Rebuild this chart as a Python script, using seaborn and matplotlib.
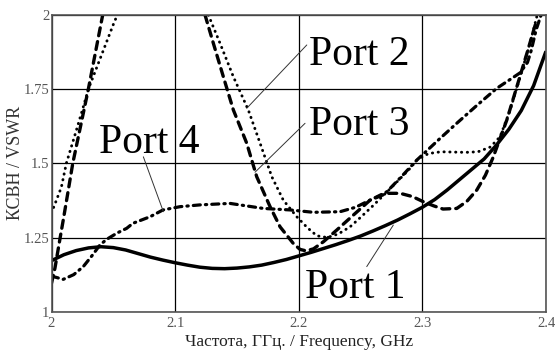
import matplotlib
matplotlib.use("Agg")
import matplotlib.pyplot as plt
import numpy as np
import pandas as pd
import seaborn as sns

# --- measured VSWR curves (frequency in GHz) ---
port1_freq = [2.000, 2.010, 2.020, 2.030, 2.040, 2.050, 2.060, 2.070, 2.080, 2.090,
              2.100, 2.110, 2.120, 2.130, 2.140, 2.150, 2.160, 2.170, 2.180, 2.190,
              2.200, 2.210, 2.220, 2.230, 2.240, 2.250, 2.260, 2.270, 2.280, 2.290,
              2.300, 2.310, 2.320, 2.330, 2.340, 2.350, 2.360, 2.370, 2.380, 2.390, 2.400]
port1_vswr = [1.172, 1.192, 1.206, 1.215, 1.219, 1.216, 1.208, 1.196, 1.184, 1.174,
              1.165, 1.157, 1.150, 1.146, 1.145, 1.147, 1.151, 1.157, 1.166, 1.176,
              1.188, 1.200, 1.213, 1.226, 1.240, 1.255, 1.272, 1.290, 1.309, 1.330,
              1.352, 1.378, 1.410, 1.445, 1.480, 1.515, 1.562, 1.615, 1.678, 1.762, 1.878]

# Port 2 leaves the top of the chart and comes back: two branches
port2_freq_a = [2.000, 2.004, 2.008, 2.012, 2.016, 2.020, 2.025, 2.030, 2.035, 2.040,
                2.045, 2.050, 2.0532]
port2_vswr_a = [1.333, 1.376, 1.420, 1.500, 1.555, 1.610, 1.680, 1.752, 1.806, 1.860,
                1.914, 1.968, 2.000]
port2_freq_b = [2.1269, 2.1363, 2.1471, 2.1592, 2.1687, 2.1782, 2.1875, 2.1984, 2.2070,
                2.2146, 2.2230, 2.2320, 2.2415, 2.2500, 2.2600, 2.2700, 2.2800, 2.2900,
                2.2960, 2.3050, 2.3150, 2.3250, 2.3350, 2.3450, 2.3550, 2.3629, 2.3710,
                2.3790, 2.3871, 2.3926]
port2_vswr_b = [2.000, 1.905, 1.792, 1.680, 1.568, 1.455, 1.376, 1.320, 1.283,
                1.256, 1.250, 1.262, 1.286, 1.318, 1.357, 1.398, 1.440, 1.483,
                1.513, 1.533, 1.539, 1.538, 1.537, 1.539, 1.555, 1.590, 1.680,
                1.790, 1.905, 1.995]

# Port 3 also has two branches
port3_freq_a = [2.000, 2.0028, 2.0069, 2.0095, 2.0136, 2.0172, 2.0235, 2.0298, 2.0356, 2.0414]
port3_vswr_a = [1.096, 1.147, 1.247, 1.309, 1.410, 1.500, 1.625, 1.750, 1.875, 2.000]
port3_freq_b = [2.1242, 2.1309, 2.1390, 2.1471, 2.1579, 2.1660, 2.1768, 2.1849, 2.1956,
                2.2010, 2.2060, 2.2120, 2.2200, 2.2307, 2.2440, 2.2577, 2.2712, 2.2820,
                2.2920, 2.3006, 2.3090, 2.3167, 2.3278, 2.3360, 2.3440, 2.3510, 2.3572,
                2.3683, 2.3764, 2.3845, 2.3926]
port3_vswr_b = [2.000, 1.905, 1.792, 1.680, 1.568, 1.455, 1.354, 1.286, 1.230,
                1.210, 1.205, 1.212, 1.236, 1.275, 1.325, 1.376, 1.399, 1.399,
                1.388, 1.371, 1.357, 1.346, 1.348, 1.372, 1.410, 1.460, 1.520,
                1.646, 1.758, 1.870, 1.985]

port4_freq = [2.000, 2.0095, 2.0180, 2.0257, 2.0330, 2.0392, 2.0447, 2.0530, 2.0608,
              2.0659, 2.0797, 2.0902, 2.1040, 2.1201, 2.1444, 2.1714, 2.1930, 2.2118,
              2.2334, 2.2460, 2.2577, 2.2712, 2.2830, 2.2955, 2.3143, 2.3278, 2.3440,
              2.3602, 2.3700, 2.3790, 2.3850, 2.3880, 2.3920, 2.3960]
port4_vswr = [1.120, 1.109, 1.125, 1.152, 1.190, 1.225, 1.244, 1.265, 1.281,
              1.298, 1.320, 1.343, 1.354, 1.360, 1.365, 1.348, 1.343, 1.335,
              1.337, 1.352, 1.376, 1.404, 1.455, 1.511, 1.584, 1.635, 1.695,
              1.753, 1.780, 1.805, 1.840, 1.880, 1.950, 2.000]

x_ticks = [2.0, 2.1, 2.2, 2.3, 2.4]
x_tick_labels = ["2", "2.1", "2.2", "2.3", "2.4"]
y_ticks = [1.0, 1.25, 1.5, 1.75, 2.0]
y_tick_labels = ["1", "1.25", "1.5", "1.75", "2"]

x_label = "Частота, ГГц. / Frequency, GHz"
y_label = "КСВН / VSWR"
port_names = ["Port 1", "Port 2", "Port 3", "Port 4"]

# --- assemble long-form table: one row per point, with branch ids ---
frames = []
branches = [
    ("Port 1", 0, port1_freq, port1_vswr),
    ("Port 2", 0, port2_freq_a, port2_vswr_a),
    ("Port 2", 1, port2_freq_b, port2_vswr_b),
    ("Port 3", 0, port3_freq_a, port3_vswr_a),
    ("Port 3", 1, port3_freq_b, port3_vswr_b),
    ("Port 4", 0, port4_freq, port4_vswr),
]
for name, seg, f, v in branches:
    frames.append(pd.DataFrame({"freq": f, "vswr": v, "port": name, "seg": seg}))
df = pd.concat(frames, ignore_index=True)

line_styles = {
    "Port 1": dict(linestyle="-", linewidth=2.5),
    "Port 2": dict(linestyle=(0, (0.1, 1.9)), linewidth=2.1),
    "Port 3": dict(linestyle=(0, (2.4, 1.8)), linewidth=2.4),
    "Port 4": dict(linestyle=(0, (2.2, 1.6, 0.4, 1.6)), linewidth=2.3),
}

sns.set_theme(style="white")
plt.rcParams["font.family"] = ["Liberation Serif", "DejaVu Serif"]

W, H = 557, 356
fig = plt.figure(figsize=(W / 100, H / 100), dpi=100)
ax = fig.add_axes([51.5 / W, 1 - 311.7 / H, (546 - 51.5) / W, (311.7 - 15) / H])

for name in port_names:
    sub = df[df["port"] == name]
    sns.lineplot(data=sub, x="freq", y="vswr", units="seg", estimator=None,
                 sort=False, color="black", ax=ax, legend=False,
                 solid_capstyle="butt", dash_capstyle="round",
                 **line_styles[name])

ax.set_xlim(2.0, 2.4)
ax.set_ylim(1.0, 2.0)
ax.set_xticks(x_ticks)
ax.set_xticklabels(x_tick_labels)
ax.set_yticks(y_ticks)
ax.set_yticklabels(y_tick_labels)
ax.tick_params(axis="both", length=0, labelsize=10.5, labelcolor="#555555")
ax.tick_params(axis="x", pad=4)
ax.tick_params(axis="y", pad=1.5)
ax.grid(True, color="black", linewidth=0.9)
for sp in ax.spines.values():
    sp.set_color("#555555")
    sp.set_linewidth(1.2)

ax.set_xlabel(x_label, fontsize=12.5, color="#222222", labelpad=3)
ax.set_ylabel(y_label, fontsize=13, color="#333333")
ax.yaxis.set_label_coords(-0.056, 0.5)

# port captions with thin leader lines
captions = {
    "Port 1": ((2.2051, 1.046), (2.2765, 1.292), (2.2550, 1.152)),
    "Port 2": ((2.2083, 1.8315), (2.1579, 1.6855), (2.2065, 1.899)),
    "Port 3": ((2.2083, 1.5956), (2.1646, 1.470), (2.2051, 1.635)),
    "Port 4": ((2.0384, 1.535), (2.0905, 1.337), (2.0743, 1.522)),
}
for name, (txt_xy, p0, p1) in captions.items():
    ax.plot([p0[0], p1[0]], [p0[1], p1[1]], color="#333333", linewidth=0.7)
    ax.text(txt_xy[0], txt_xy[1], name, fontsize=30, ha="left", va="baseline",
            color="black")

fig.savefig("out.png", dpi=100)
